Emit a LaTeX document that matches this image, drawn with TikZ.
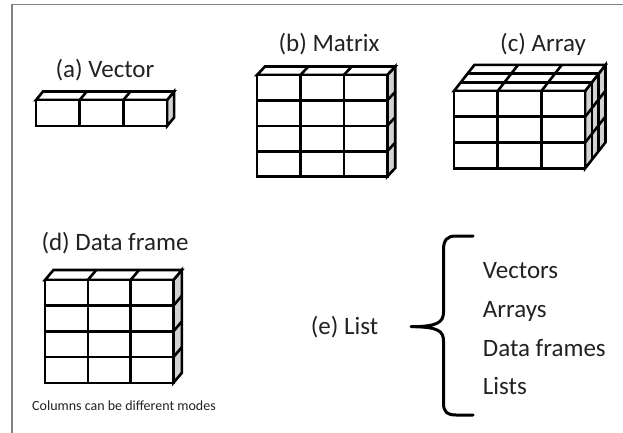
\documentclass[tikz,border=0pt]{standalone}
\usepackage{fontspec}
\setmainfont{Carlito}
\definecolor{sidegray}{HTML}{D2D2D2}
\definecolor{txt}{HTML}{222222}
\definecolor{framegray}{HTML}{808080}
\newcommand\gridbox[9]{%
  \begin{scope}[shift={(#1,#2)},cube]
    \pgfmathsetmacro\W{#3*#5}\pgfmathsetmacro\H{#4*#6}%
    \pgfmathsetmacro\DX{#7*#8}\pgfmathsetmacro\DY{#7*#9}%
    \filldraw[fill=sidegray] (\W,0) -- ++(\DX,\DY) -- ++(0,\H) -- (\W,\H) -- cycle;
    \filldraw[fill=white] (0,0) -- (\W,0) -- ++(\DX,\DY) -- ++(-\W,0) -- cycle;
    \filldraw[fill=white] (0,0) rectangle (\W,\H);
    \pgfmathtruncatemacro\NC{#3-1}\pgfmathtruncatemacro\NR{#4-1}\pgfmathtruncatemacro\ND{#7-1}%
    \foreach \j in {1,...,\NC} {
      \draw (\j*#5,0) -- (\j*#5,\H);
      \draw (\j*#5,0) -- ++(\DX,\DY);
    }
    \ifnum\NR>0
      \foreach \i in {1,...,\NR} {
        \draw (0,\i*#6) -- (\W,\i*#6);
        \draw (\W,\i*#6) -- ++(\DX,\DY);
      }
    \fi
    \ifnum\ND>0
      \foreach \k in {1,...,\ND} {
        \draw (\k*#8,\k*#9) -- ++(\W,0);
        \draw (\W+\k*#8,\k*#9) -- ++(0,\H);
      }
    \fi
  \end{scope}}
\tikzset{
  cube/.style={line width=2.6pt, line join=miter},
  lbl/.style={inner sep=0pt, anchor=base, text=txt, font=\fontsize{25}{30}\selectfont},
  lbll/.style={lbl, anchor=base west},
  small/.style={inner sep=0pt, anchor=base, text=txt, font=\fontsize{14}{17}\selectfont},
  bracestyle/.style={line width=3pt, line cap=round, line join=round, draw=black}
}
\begin{document}
\begin{tikzpicture}[x=1pt,y=-1pt]
  \useasboundingbox (0,0) rectangle (623,433);
  \fill[white] (0,0) rectangle (623,433);
  \draw[framegray, line width=1.5pt] (12,433) -- (12,4.5) -- (623,4.5);

  % (a) Vector
  \gridbox{36}{100}{3}{1}{43.7}{26}{1}{7}{-8.5}
  \node[lbl] (la) at (105,78) {(a) Vector};

  % (b) Matrix
  \gridbox{257}{75}{3}{4}{43.4}{25.4}{1}{8}{-8.5}
  \node[lbl] (lb) at (329,51.7) {(b) Matrix};

  % (c) Array
  \gridbox{454}{91}{3}{3}{43.7}{25.8}{3}{6.8}{-8.7}
  \node[lbl] (lc) at (543,51.7) {(c) Array};

  % (d) Data frame
  \gridbox{45}{280}{3}{4}{42.8}{25.7}{1}{8.5}{-10}
  \node[lbl] (ld) at (115,250) {(d) Data frame};
  \node[small] (cap) at (124,410) {Columns can be different modes};

  % (e) List
  \node[lbll] (le) at (310.7,334) {(e) List};
  \draw[bracestyle] (473,236) -- (456,236)
    .. controls (447,236) and (443.5,240) .. (443.5,250) -- (443.5,312)
    .. controls (443.5,322) and (438,326.7) .. (411,326.7)
    .. controls (438,326.7) and (443.5,331) .. (443.5,341) -- (443.5,403)
    .. controls (443.5,412) and (447,415) .. (456,415) -- (473,415);
  \node[lbll] (i1) at (482.7,278.3) {Vectors};
  \node[lbll] (i2) at (482.7,317.3) {Arrays};
  \node[lbll] (i3) at (482.7,356) {Data frames};
  \node[lbll] (i4) at (482.7,394.3) {Lists};
\end{tikzpicture}
\end{document}
